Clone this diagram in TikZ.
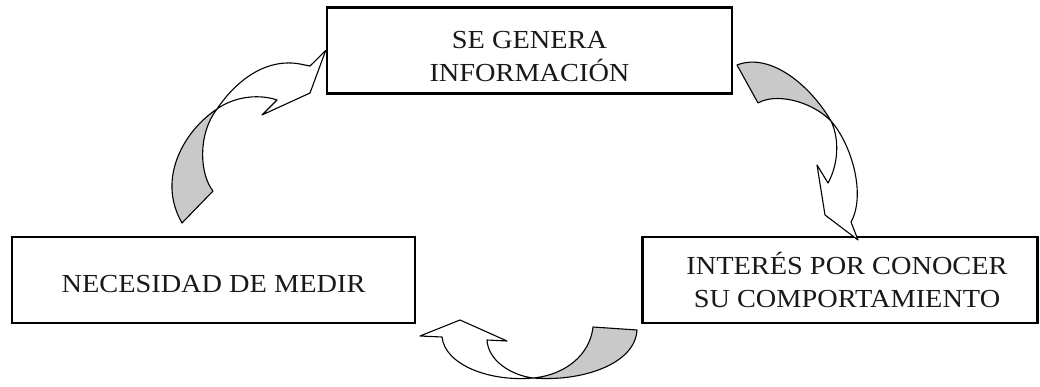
\documentclass[tikz,border=0pt]{standalone}
\usepackage{fontspec}
\setmainfont{Liberation Serif}[FakeStretch=1.09]
\definecolor{gris}{gray}{0.79}

\begin{document}
\begin{tikzpicture}[x=1pt,y=-1pt,
	caja/.style={draw,line width=2.6pt,minimum width=#1,minimum height=86pt,inner sep=0pt},
	texto/.style={align=center,font=\fontsize{26}{33}\selectfont,text=black!90},
	cinta/.style={draw,line width=1.1pt,line join=round,fill=#1}]
	\useasboundingbox (0,0) rectangle (1040,387);
	\node[caja=405pt] (genera) at (529.5,50.5) {};
	\node[caja=403pt] (medir) at (213.5,280) {};
	\node[caja=395pt] (interes) at (840,280) {};
	\node[texto] (tgenera) at ([yshift=-6.5pt]genera.center) {SE GENERA\\INFORMACIÓN};
	\node[texto] (tmedir) at ([yshift=-4.5pt]medir.center) {NECESIDAD DE MEDIR};
	\node[texto] (tinteres) at ([xshift=7pt]interes.center) {INTERÉS POR CONOCER\\SU COMPORTAMIENTO};
	\path (217,109) coordinate (c1) (831,121) coordinate (c2) (533,378) coordinate (c3);
	\draw[cinta=gris] (c1) .. controls (185,130) and (156,178) .. (182,223) -- (213,191) .. controls (200,175) and (197,135) .. (c1) -- cycle;
	\draw[cinta=white] (c1) .. controls (238,78) and (268,58) .. (300,64) -- (310,66) -- (genera.west) -- (310,93) -- (262,115) -- (277,100) .. controls (260,94) and (235,96) .. (c1) -- cycle;
	\draw[cinta=gris] (c2) .. controls (810,85) and (770,52) .. (737,65) -- (758,103) .. controls (775,93) and (810,100) .. (c2) -- cycle;
	\draw[cinta=white] (c2) .. controls (852,145) and (866,195) .. (851,222) -- (858,240) -- (825,215) -- (817,165) -- (828,183) .. controls (838,165) and (840,140) .. (c2) -- cycle;
	\draw[cinta=gris] (c3) .. controls (580,382) and (635,365) .. (637,330) -- (593,327) .. controls (590,355) and (565,375) .. (c3) -- cycle;
	\draw[cinta=white] (c3) .. controls (490,382) and (445,365) .. (442,337) -- (420,336) -- (460,320) -- (507,341) -- (487,340) .. controls (488,360) and (510,375) .. (c3) -- cycle;
\end{tikzpicture}
\end{document}
